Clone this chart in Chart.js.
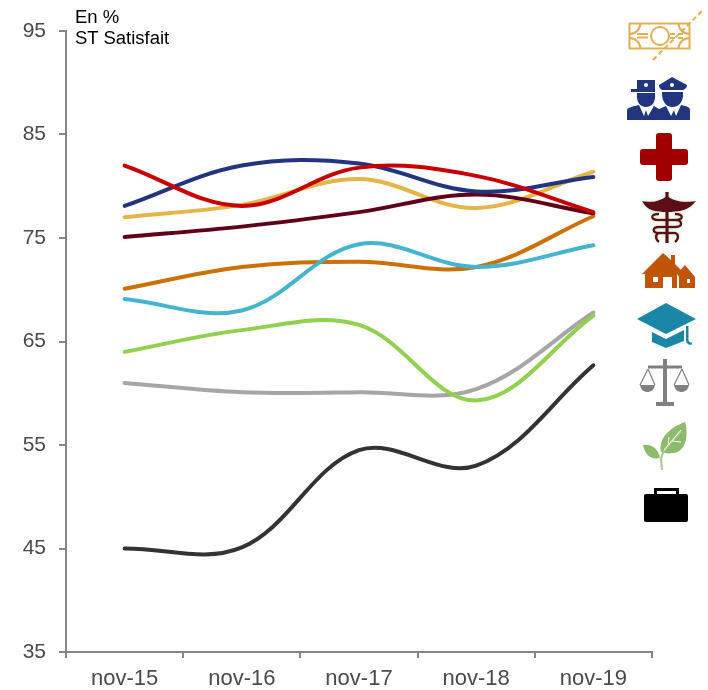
<!DOCTYPE html>
<html lang="fr">
<head>
<meta charset="utf-8">
<title>ST Satisfait</title>
<script src="https://cdn.jsdelivr.net/npm/chart.js@4"></script>
<style>
    body { margin: 0; background: #fff; }
    #wrap { position: relative; width: 708px; height: 690px; overflow: hidden; }
    #chart { position: absolute; left: 0; top: 0; }
    #icons { position: absolute; left: 0; top: 0; pointer-events: none; }
    .note { position: absolute; left: 75px; font: 18.5px "Liberation Sans", Arial, sans-serif; color: #000; line-height: 21px; }
</style>
</head>
<body>
<div id="wrap">
    <canvas id="chart" width="708" height="690"></canvas>
    <div class="note" style="top:6px">En %</div>
    <div class="note" style="top:27px">ST Satisfait</div>
    <svg id="icons" width="708" height="690" viewBox="0 0 708 690">
        <defs>
            <filter id="halo" x="-20%" y="-20%" width="140%" height="140%">
                <feDropShadow dx="0" dy="0" stdDeviation="2" flood-color="#CFE6C4"/>
            </filter>
        </defs>
        <!-- salaire -->
        <g fill="none" stroke="#E0B050" stroke-width="2">
            <rect x="629.500" y="23.500" width="60" height="25"/>
            <circle cx="660" cy="36" r="9"/>
            <path d="M637 34h11M637 37.500h11M670 34h5M678 34h5M670 38h5M678 38h5"/>
            <path d="M629.500 34a11 11 0 0 0 11-10.500M629.500 38a11 11 0 0 1 11 10.500M689.500 38a11 11 0 0 0-11 10.500M689.500 34a11 11 0 0 1-11-10.500"/>
            <path d="M653 60L702 11" stroke-dasharray="5 3"/>
        </g>
        <!-- police -->
        <g fill="#223580">
            <path d="M637 80h18v9h-18zM631 89h24v3h-24z"/>
            <path d="M637 93h18c1 9-3 14-9 14s-10-5-9-14z"/>
            <path d="M659 85l13-8 15 8c0 3-2 4-4 5h-21c-2-1-3-3-3-5z"/>
            <path d="M662 92h21c1 9-4 15-10.500 15s-11-6-10.500-15z"/>
            <path d="M627 120v-9c0-3 3-4 12-6l5 11 2-6 2 6 6-10 5 3 7-3 5 10 3-6 2 6 5-11c9 2 9 3 9 6v9z"/>
        </g>
        <circle cx="646" cy="85" r="2" fill="#fff"/>
        <circle cx="672" cy="85" r="2" fill="#fff"/>
        <!-- sante -->
        <path fill="#A00000" d="M656 136a3 3 0 0 1 3-3h10a3 3 0 0 1 3 3v13h13a3 3 0 0 1 3 3v10a3 3 0 0 1-3 3h-13v13a3 3 0 0 1-3 3h-10a3 3 0 0 1-3-3v-13h-13a3 3 0 0 1-3-3v-10a3 3 0 0 1 3-3h13z"/>
        <!-- medecins -->
        <g fill="none" stroke="#5C0A14" filter="url(#halo)">
            <path stroke-width="3.500" d="M667 192v51"/>
            <path stroke-width="0" fill="#5C0A14" d="M642 201c10 2 18 0 25-5c7 5 17 7 29 5c-6 9-16 11-29 11c-13 0-21-2-25-11z"/>
            <path stroke-width="2.500" d="M659 214c-9 0-9 6 0 6h16c8 0 8 7 0 7h-16c-7 0-7 6 0 6h15c5 0 5 6 1 9M675 214c9 0 9 6 0 6M659 227c-7 0-7 6 0 6M660 233c-5 0-5 6-1 9"/>
        </g>
        <!-- logement -->
        <path fill="#C05508" d="M642 274L663 253l8 7v-5h4v9l8 8-6 2v14h-32v-14zM663 277v11h9v-11zM653 277v5h5v-5z" fill-rule="evenodd"/>
        <path fill="#C05508" d="M685 265l10 12v11h-16v-11l-2-3z"/>
        <rect x="687" y="279" width="3" height="4" fill="#fff"/>
        <!-- enseignement -->
        <g fill="#1B87A6">
            <path d="M666 303l30 16-30 15-29-15z"/>
            <path d="M652 332l14 7 18-9v11l-18 7-14-6z"/>
            <path d="M686 326h2.500v14c0 2 2 2.500 3.500 2.500v2c-3 1-6-1-6-4z"/>
        </g>
        <!-- justice -->
        <g stroke="#808080" fill="none">
            <path stroke-width="4" d="M665 359v45M656 404h18"/>
            <path stroke-width="3" d="M648 367h34"/>
            <path stroke-width="1.200" d="M648 369l-8 16M648 369l7 16M682 369l-8 16M682 369l7 16"/>
            <path stroke-width="0" fill="#808080" d="M640 385h15c-1 5-4 7-7.500 7s-6.500-2-7.500-7zM674 385h15c-1 5-4 7-7.500 7s-6.500-2-7.500-7z"/>
        </g>
        <!-- environnement -->
        <g fill="#8CBB6C">
            <path d="M685 422c4 13 1 30-12 31c-5 1-8 0-12-1c-3-14 10-25 24-30z"/>
            <path d="M643 445c8-1 15 3 17 13c-9 2-15-3-17-13z"/>
        </g>
        <path d="M662 470l-1-11c1-8 8-14 20-28" fill="none" stroke="#A8C98F" stroke-width="2"/>
        <path d="M664 450l17-20M668 446l1-9M672 441l9 1" fill="none" stroke="#fff" stroke-width="1"/>
        <!-- ensemble -->
        <rect x="644" y="494" width="44" height="28" rx="2" fill="#000"/>
        <path d="M655.500 495v-5.500h22v5.500" fill="none" stroke="#000" stroke-width="3"/>
    </svg>
</div>
<script>
const categories = ['nov-15', 'nov-16', 'nov-17', 'nov-18', 'nov-19'];
const yTicks = [35, 45, 55, 65, 75, 85, 95];

const salaire = [77, 78.2, 80.7, 77.9, 81.4];
const police = [78.1, 82, 82.2, 79.5, 80.9];
const sante = [82, 78.1, 81.8, 81, 77.5];
const medecins = [75.1, 76.1, 77.5, 79.2, 77.4];
const logement = [70.1, 72.2, 72.7, 72.2, 77.1];
const enseignement = [69.1, 68, 74.4, 72.2, 74.3];
const justice = [61, 60.1, 60.1, 60.4, 67.8];
const environnement = [64, 66.1, 66.6, 59.3, 67.5];
const ensemble = [45, 45.1, 54.5, 53, 62.7];

// first in the list is drawn on top
const series = [
    { data: sante, color: '#C80000' },
    { data: police, color: '#233580' },
    { data: medecins, color: '#600018' },
    { data: salaire, color: '#E5B54A' },
    { data: enseignement, color: '#44B4CF' },
    { data: logement, color: '#CC7108' },
    { data: environnement, color: '#92D050' },
    { data: justice, color: '#A6A6A6' },
    { data: ensemble, color: '#333333' }
];

const axisColor = '#868686';
const fontFamily = '"Liberation Sans", Arial, sans-serif';

new Chart(document.getElementById('chart'), {
    type: 'line',
    data: {
        labels: categories,
        datasets: series.map(s => ({
            data: s.data,
            borderColor: s.color,
            borderWidth: 4,
            borderCapStyle: 'round',
            tension: 0.36,
            pointRadius: 0,
            fill: false
        }))
    },
    options: {
        responsive: false,
        animation: false,
        layout: { padding: { top: 31, right: 56, bottom: 0, left: 0 } },
        plugins: { legend: { display: false }, tooltip: { enabled: false } },
        scales: {
            x: {
                offset: true,
                afterFit: scale => { scale.height = 38; },
                grid: { offset: true, drawOnChartArea: false, color: axisColor, lineWidth: 2, tickLength: 6 },
                border: { color: axisColor, width: 2 },
                ticks: { color: '#4a4a4a', font: { family: fontFamily, size: 22 }, padding: 8, maxRotation: 0 }
            },
            y: {
                min: 35,
                max: 95,
                afterFit: scale => { scale.width = 66; },
                afterBuildTicks: scale => { scale.ticks = yTicks.map(v => ({ value: v })); },
                grid: { drawOnChartArea: false, color: axisColor, lineWidth: 2, tickLength: 7 },
                border: { color: axisColor, width: 2 },
                ticks: { color: '#4a4a4a', font: { family: fontFamily, size: 21 }, padding: 13 }
            }
        }
    }
});
</script>
</body>
</html>
